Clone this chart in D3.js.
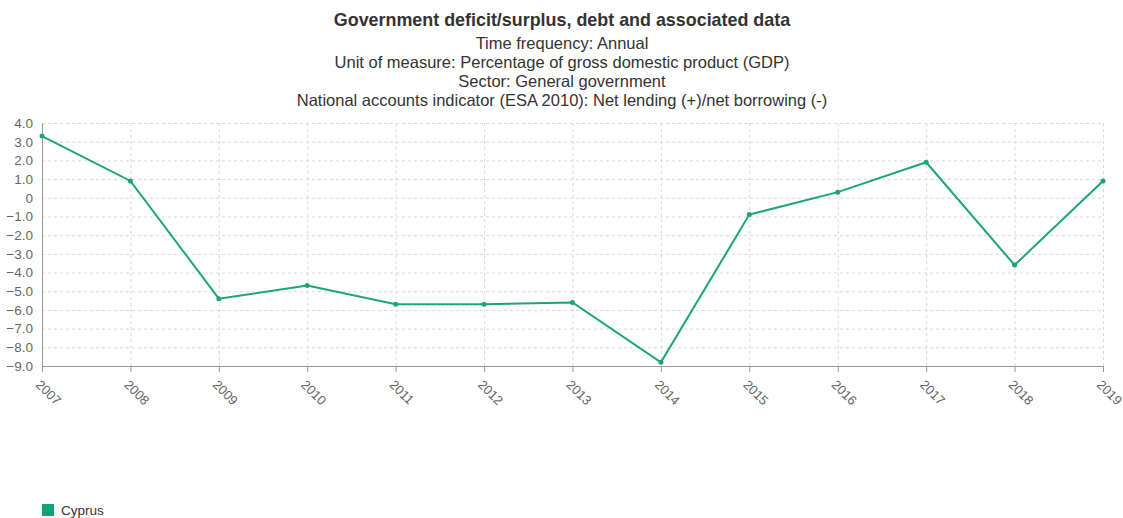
<!DOCTYPE html>
<html>
<head>
<meta charset="utf-8">
<script src="https://cdn.jsdelivr.net/npm/d3@7"></script>
<style>
  body { margin: 0; background: #fff; font-family: "Liberation Sans", Arial, sans-serif; }
  .grid line { stroke: #d9d9d9; stroke-dasharray: 3,3; }
  .grid path { display: none; }
  .axis text { fill: #666; font-size: 13.5px; font-family: "Liberation Sans", Arial, sans-serif; }
  .axis path, .axis line { stroke: #999; }
</style>
</head>
<body>
<svg id="chart"></svg>
<script>
// Data
const years = ["2007","2008","2009","2010","2011","2012","2013","2014","2015","2016","2017","2018","2019"];
const cyprus = [3.3, 0.9, -5.4, -4.7, -5.7, -5.7, -5.6, -8.8, -0.9, 0.3, 1.9, -3.6, 0.9];
const yTicks = [4,3,2,1,0,-1,-2,-3,-4,-5,-6,-7,-8,-9];
const titleLines = [
  "Time frequency: Annual",
  "Unit of measure: Percentage of gross domestic product (GDP)",
  "Sector: General government",
  "National accounts indicator (ESA 2010): Net lending (+)/net borrowing (-)"
];
const seriesName = "Cyprus";
const color = "#1fa37a";

const width = 1123, height = 518;
const margin = { top: 123, right: 20, bottom: 152, left: 42 };

const svg = d3.select("#chart").attr("width", width).attr("height", height);

svg.append("text")
  .attr("x", 562).attr("y", 26)
  .attr("text-anchor", "middle")
  .style("font-size", "17.9px").style("font-weight", "bold").style("fill", "#333")
  .text("Government deficit/surplus, debt and associated data");

svg.selectAll(".sub")
  .data(titleLines)
  .join("text")
  .attr("class", "sub")
  .attr("x", 562)
  .attr("y", (d, i) => 48.5 + i * 19.3)
  .attr("text-anchor", "middle")
  .style("font-size", "16.5px").style("fill", "#333")
  .text(d => d);

const x = d3.scalePoint()
  .domain(years)
  .range([margin.left, width - margin.right]);

const y = d3.scaleLinear()
  .domain([-9, 4])
  .range([height - margin.bottom, margin.top]);

// grid
svg.append("g")
  .attr("class", "grid")
  .attr("transform", "translate(" + margin.left + ",0)")
  .call(d3.axisLeft(y).tickValues(yTicks).tickSize(-(x.range()[1] - margin.left)).tickFormat(""));

svg.append("g")
  .attr("class", "grid")
  .attr("transform", "translate(0," + margin.top + ")")
  .call(d3.axisBottom(x).tickSize(y(-9) - margin.top).tickFormat(""));

// axes
svg.append("g")
  .attr("class", "axis")
  .attr("transform", "translate(" + margin.left + ",0)")
  .call(d3.axisLeft(y).tickValues(yTicks).tickSize(0).tickPadding(9)
    .tickFormat(d => d === 0 ? "0" : d3.format(".1f")(d)));

const xAxis = svg.append("g")
  .attr("class", "axis")
  .attr("transform", "translate(0," + y(-9) + ")")
  .call(d3.axisBottom(x).tickSize(6).tickSizeOuter(0));

xAxis.selectAll("text")
  .attr("text-anchor", "start")
  .style("font-size", "13px")
  .attr("x", 8.5)
  .attr("y", 19)
  .attr("dy", 0)
  .attr("transform", "rotate(45)");

// line
const line = d3.line()
  .x((d, i) => x(years[i]))
  .y(d => y(d));

svg.append("path")
  .datum(cyprus)
  .attr("fill", "none")
  .attr("stroke", color)
  .attr("stroke-width", 2)
  .attr("d", line);

svg.append("g")
  .selectAll("circle")
  .data(cyprus)
  .join("circle")
  .attr("cx", (d, i) => x(years[i]))
  .attr("cy", d => y(d))
  .attr("r", 2.5)
  .attr("fill", color);

// legend
svg.append("rect")
  .attr("x", 42).attr("y", 504)
  .attr("width", 12).attr("height", 12)
  .attr("fill", "#10a07a");

svg.append("text")
  .attr("x", 61).attr("y", 515)
  .style("font-size", "13.5px").style("fill", "#333")
  .text(seriesName);
</script>
</body>
</html>
